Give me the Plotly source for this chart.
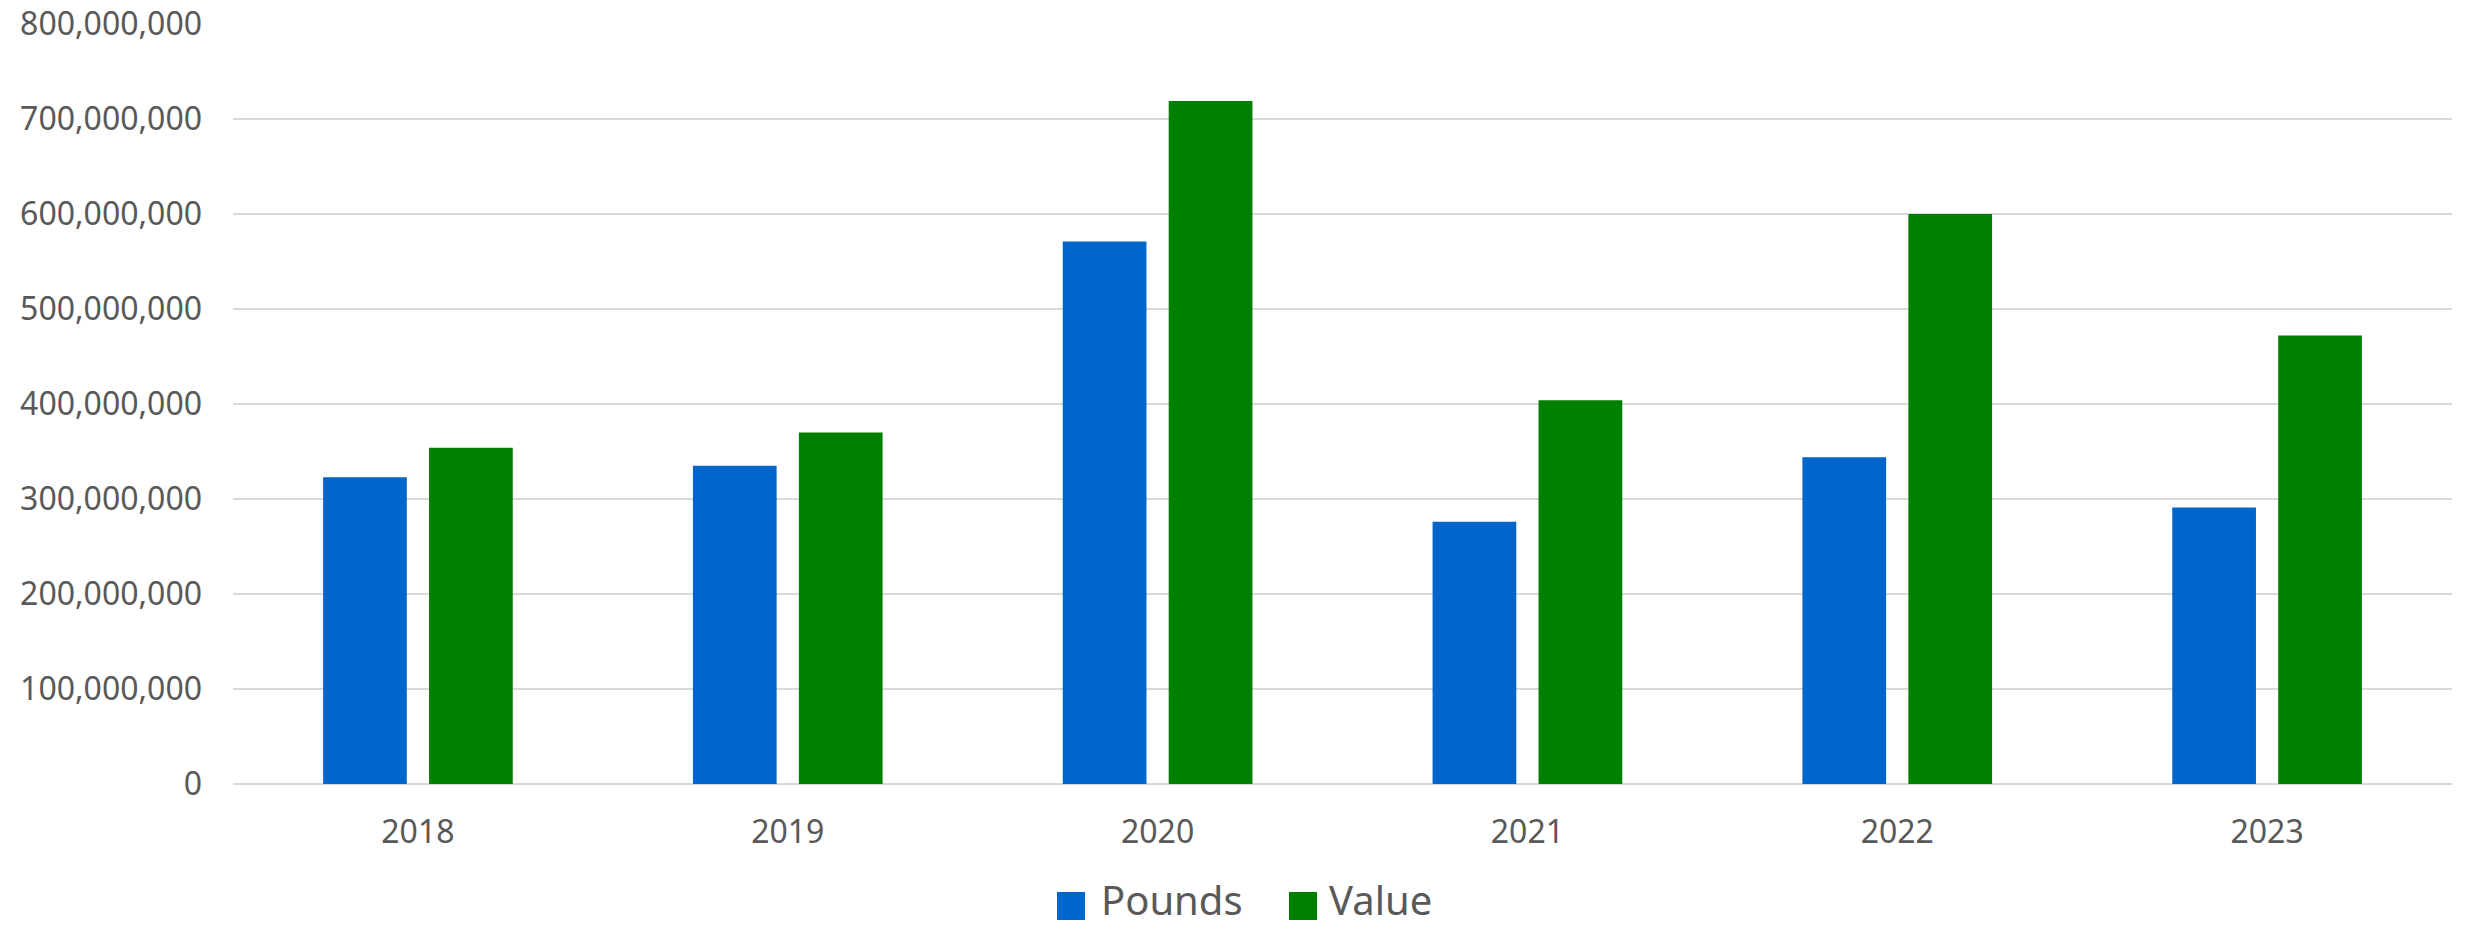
import plotly.graph_objects as go

years = ["2018", "2019", "2020", "2021", "2022", "2023"]
pounds = [323_000_000, 335_000_000, 571_000_000, 276_000_000, 344_000_000, 291_000_000]
value = [354_000_000, 370_000_000, 719_000_000, 404_000_000, 600_000_000, 472_000_000]
series_names = ["Pounds", "Value"]
colors = ["#0066CC", "#008000"]
y_ticks = list(range(0, 800_000_001, 100_000_000))

FONT = "Noto Sans"
TXT = "#595959"

fig = go.Figure()
fig.add_trace(go.Bar(x=years, y=pounds, name=series_names[0], marker_color=colors[0],
                     marker_line_width=0, showlegend=False))
fig.add_trace(go.Bar(x=years, y=value, name=series_names[1], marker_color=colors[1],
                     marker_line_width=0, showlegend=False))

# custom legend (large square swatches like the reference)
L, R, T, B = 233, 2452, 24, 784
W, H = R - L, B - T
def px(x):
    return (x - L) / W
def py(y):
    return (B - y) / H

legend_items = [(1057, 1100), (1289, 1328)]
for (sx, tx), name, col in zip(legend_items, series_names, colors):
    fig.add_shape(type="rect", xref="paper", yref="paper",
                  x0=px(sx), x1=px(sx + 28), y0=py(892), y1=py(920),
                  fillcolor=col, line_width=0)
    fig.add_annotation(xref="paper", yref="paper", x=px(tx), y=py(928),
                       xanchor="left", yanchor="bottom", text=name, showarrow=False,
                       borderpad=0,
                       font=dict(family=FONT, size=40, color=TXT))

fig.update_layout(
    width=2468, height=930,
    margin=dict(l=L, r=2468 - R, t=T, b=930 - B, autoexpand=False),
    paper_bgcolor="white", plot_bgcolor="white",
    barmode="group", bargap=0.427, bargroupgap=0.21,
    font=dict(family=FONT, size=32, color=TXT),
    showlegend=False,
)
fig.update_xaxes(showgrid=False, showline=False, ticks="", ticklabelstandoff=26,
                 automargin=False,
                 tickfont=dict(family=FONT, size=32, color=TXT))
fig.update_yaxes(range=[0, 800_000_000], tickvals=y_ticks, tickformat=",",
                 showgrid=True, gridcolor="#D9D9D9", gridwidth=1.5,
                 zeroline=True, zerolinecolor="#D9D9D9", zerolinewidth=2,
                 showline=False, ticks="", ticklabelstandoff=30, automargin=False,
                 tickfont=dict(family=FONT, size=32, color=TXT))

fig.write_html("out.html")
